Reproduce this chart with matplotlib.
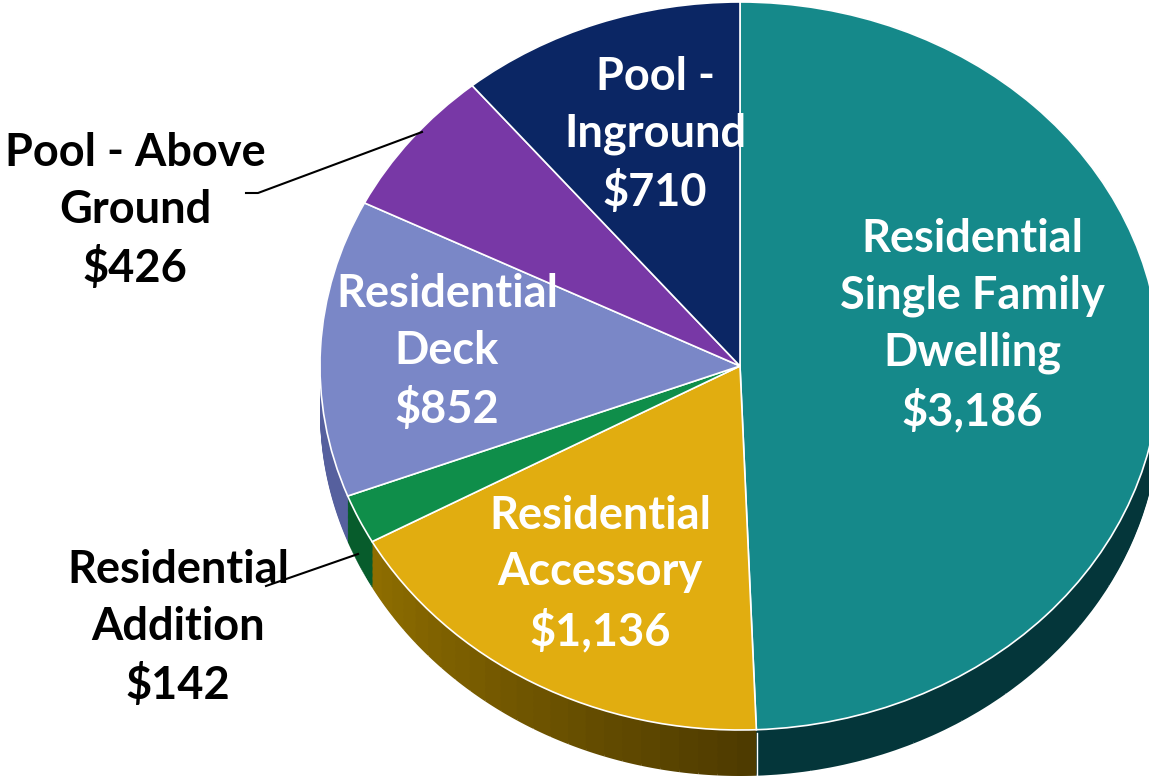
import matplotlib.pyplot as plt
import matplotlib.colors as mcolors
import numpy as np

# slices, clockwise from 12 o'clock
categories = ["Residential\nSingle Family\nDwelling", "Residential\nAccessory",
              "Residential\nAddition", "Residential\nDeck",
              "Pool - Above\nGround", "Pool -\nInground"]
values = [3186, 1136, 142, 852, 426, 710]
value_labels = ["$3,186", "$1,136", "$142", "$852", "$426", "$710"]

top_colors = ["#15898a", "#e1ad10", "#0f8e4a", "#7a87c7", "#7838a6", "#0b2664"]
# side wall shades: (start of slice, end of slice)
side_shades = [("#04363a", "#04363a"), ("#4e3b00", "#8e6d00"),
               ("#075c2c", "#075c2c"), ("#56609e", "#56609e"),
               ("#4e2270", "#4e2270"), ("#061840", "#061840")]

W, H = 1149, 778
CX, CY, RX, RY = 740, 366, 420, 364   # ellipse of the top face, pixels
DEPTH = 46
NSUB = 24

# side wall split into thin pieces so a shading gradient can run along it
side_vals, side_cols = [], []
for v, (c0, c1) in zip(values, side_shades):
    cmap = mcolors.LinearSegmentedColormap.from_list("s", [c0, c1])
    for t in np.linspace(0, 1, NSUB):
        side_vals.append(v / NSUB)
        side_cols.append(cmap(t))

fig = plt.figure(figsize=(W / 100, H / 100), dpi=100)
ax = fig.add_axes([0, 0, 1, 1])

for k in np.linspace(DEPTH / RY, 0, 40):
    ax.pie(side_vals, colors=side_cols, startangle=90, counterclock=False,
           center=(0, -k), wedgeprops=dict(linewidth=0))
ax.pie(values, colors=top_colors, startangle=90, counterclock=False,
       wedgeprops=dict(linewidth=1.2, edgecolor="white"))
ax.set_aspect("auto")
ax.set_xlim(-CX / RX, (W - CX) / RX)
ax.set_ylim((CY - H) / RY, CY / RY)
ax.axis("off")

# overlay in pixel coordinates for labels and leader lines
ov = fig.add_axes([0, 0, 1, 1])
ov.set_xlim(0, W)
ov.set_ylim(H, 0)
ov.axis("off")

ov.plot([757, 757], [733, H], color="white", lw=1)

font = dict(family="Lato", fontweight="bold", fontsize=32.5, ha="center",
            va="center", linespacing=1.42)
label_pos = [(972, 326, "white"), (600, 574, "white"), (178, 628, "black"),
             (447, 352, "white"), (135, 211, "black"), (655, 135, "white")]
for name, val, (x, y, c) in zip(categories, value_labels, label_pos):
    ov.text(x, y, f"{name}\n{val}", color=c, **font)

ov.plot([246, 258, 422], [193, 193, 132], color="black", lw=1.5)
ov.plot([266, 358], [586, 554], color="black", lw=1.5)

fig.savefig("out.png", dpi=100)
